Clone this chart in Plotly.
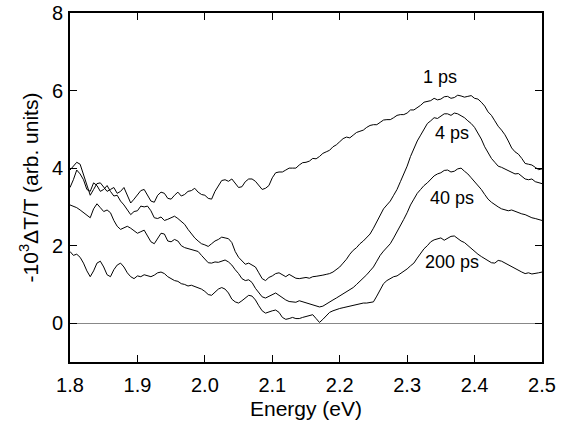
import plotly.graph_objects as go

# photon energy grid (eV), 5 meV steps
energy = [round(1.80 + 0.005 * i, 3) for i in range(141)]

# -10^3 dT/T for each pump-probe delay
ps1 = [3.95, 4.05, 4.15, 4.10, 3.85, 3.55, 3.30, 3.45, 3.60, 3.62,
       3.50, 3.40, 3.45, 3.50, 3.35, 3.40, 3.50, 3.30, 3.10, 3.20,
       3.30, 3.42, 3.45, 3.30, 3.15, 3.12, 3.30, 3.38, 3.35, 3.22,
       3.20, 3.30, 3.38, 3.28, 3.32, 3.40, 3.42, 3.48, 3.38, 3.32,
       3.30, 3.22, 3.20, 3.40, 3.55, 3.68, 3.70, 3.66, 3.72, 3.60,
       3.50, 3.52, 3.65, 3.72, 3.72, 3.66, 3.55, 3.45, 3.48, 3.55,
       3.75, 3.88, 3.90, 3.90, 3.95, 4.00, 4.00, 4.00, 4.08, 4.14,
       4.15, 4.18, 4.25, 4.24, 4.30, 4.38, 4.42, 4.46, 4.55, 4.60,
       4.68, 4.76, 4.80, 4.78, 4.85, 4.92, 4.95, 4.98, 5.05, 5.10,
       5.12, 5.12, 5.18, 5.24, 5.25, 5.25, 5.30, 5.36, 5.38, 5.38,
       5.42, 5.50, 5.50, 5.55, 5.62, 5.70, 5.72, 5.74, 5.80, 5.76,
       5.78, 5.84, 5.85, 5.80, 5.82, 5.88, 5.86, 5.83, 5.85, 5.87,
       5.80, 5.78, 5.70, 5.60, 5.45, 5.36, 5.22, 5.08, 4.98, 4.86,
       4.70, 4.52, 4.42, 4.36, 4.25, 4.12, 4.10, 4.08, 4.02, 3.96,
       3.98]
ps4 = [3.50, 3.70, 3.95, 3.85, 3.70, 3.45, 3.40, 3.62, 3.55, 3.40,
       3.45, 3.55, 3.40, 3.28, 3.30, 3.15, 3.05, 2.92, 2.80, 2.88,
       2.90, 3.02, 3.00, 3.02, 2.90, 2.72, 2.70, 2.74, 2.65, 2.68,
       2.72, 2.76, 2.70, 2.62, 2.55, 2.42, 2.30, 2.20, 2.12, 2.05,
       2.02, 1.98, 2.05, 2.12, 2.16, 2.22, 2.20, 2.18, 2.08, 1.85,
       1.70, 1.60, 1.52, 1.55, 1.50, 1.45, 1.30, 1.15, 1.10, 1.18,
       1.22, 1.28, 1.30, 1.25, 1.20, 1.26, 1.22, 1.16, 1.15, 1.17,
       1.18, 1.16, 1.20, 1.21, 1.22, 1.24, 1.26, 1.28, 1.32, 1.38,
       1.45, 1.55, 1.65, 1.78, 1.88, 1.95, 2.05, 2.12, 2.20, 2.30,
       2.45, 2.62, 2.80, 2.95, 3.05, 3.15, 3.30, 3.45, 3.65, 3.85,
       4.05, 4.30, 4.50, 4.70, 4.85, 5.00, 5.15, 5.22, 5.30, 5.28,
       5.35, 5.40, 5.40, 5.36, 5.42, 5.40, 5.35, 5.30, 5.22, 5.15,
       5.05, 4.90, 4.75, 4.55, 4.38, 4.25, 4.15, 4.05, 4.02, 3.98,
       3.95, 3.90, 3.85, 3.86, 3.78, 3.72, 3.70, 3.72, 3.65, 3.62,
       3.60]
ps40 = [3.05, 3.02, 2.98, 2.92, 2.85, 2.78, 2.72, 2.95, 3.08, 2.98,
        2.88, 2.92, 2.85, 2.65, 2.50, 2.42, 2.45, 2.50, 2.45, 2.38,
        2.32, 2.36, 2.40, 2.25, 2.10, 2.05, 2.20, 2.32, 2.30, 2.12,
        2.10, 2.16, 2.12, 2.00, 1.95, 1.92, 1.90, 1.88, 1.85, 1.75,
        1.65, 1.56, 1.55, 1.58, 1.57, 1.60, 1.63, 1.58, 1.50, 1.38,
        1.28, 1.15, 1.10, 1.12, 1.05, 0.90, 0.78, 0.68, 0.65, 0.70,
        0.75, 0.78, 0.72, 0.65, 0.60, 0.56, 0.55, 0.54, 0.58, 0.55,
        0.52, 0.50, 0.48, 0.45, 0.42, 0.44, 0.50, 0.56, 0.60, 0.65,
        0.70, 0.76, 0.80, 0.85, 0.92, 1.00, 1.08, 1.15, 1.25, 1.35,
        1.45, 1.60, 1.75, 1.86, 1.95, 2.05, 2.20, 2.35, 2.50, 2.68,
        2.85, 3.05, 3.20, 3.35, 3.45, 3.55, 3.62, 3.72, 3.80, 3.85,
        3.88, 3.94, 3.95, 3.90, 3.92, 3.98, 4.00, 3.92, 3.85, 3.75,
        3.65, 3.55, 3.45, 3.32, 3.20, 3.12, 3.05, 3.00, 2.95, 2.92,
        2.90, 2.92, 2.88, 2.84, 2.82, 2.80, 2.75, 2.72, 2.70, 2.68,
        2.65]
ps200 = [1.85, 1.75, 1.78, 1.70, 1.55, 1.35, 1.20, 1.35, 1.55, 1.60,
         1.45, 1.25, 1.20, 1.38, 1.50, 1.55, 1.45, 1.30, 1.20, 1.15,
         1.22, 1.20, 1.25, 1.22, 1.20, 1.24, 1.30, 1.32, 1.28, 1.20,
         1.15, 1.10, 1.08, 1.02, 1.00, 0.96, 0.98, 0.95, 0.92, 0.88,
         0.82, 0.74, 0.72, 0.80, 0.88, 0.92, 0.88, 0.78, 0.62, 0.55,
         0.52, 0.58, 0.65, 0.72, 0.70, 0.60, 0.45, 0.32, 0.26, 0.30,
         0.32, 0.34, 0.28, 0.15, 0.10, 0.12, 0.15, 0.12, 0.12, 0.15,
         0.18, 0.20, 0.22, 0.12, 0.02, 0.10, 0.18, 0.28, 0.32, 0.36,
         0.38, 0.40, 0.42, 0.44, 0.45, 0.48, 0.50, 0.52, 0.52, 0.54,
         0.55, 0.70, 0.85, 1.02, 1.10, 1.15, 1.20, 1.22, 1.28, 1.32,
         1.40, 1.48, 1.55, 1.68, 1.80, 1.92, 2.00, 2.10, 2.15, 2.18,
         2.20, 2.14, 2.18, 2.24, 2.25, 2.18, 2.12, 2.08, 2.00, 1.92,
         1.85, 1.78, 1.72, 1.66, 1.62, 1.56, 1.55, 1.62, 1.60, 1.55,
         1.50, 1.45, 1.42, 1.36, 1.32, 1.28, 1.30, 1.27, 1.28, 1.30,
         1.32]

labels = ["1 ps", "4 ps", "40 ps", "200 ps"]
label_x = [2.349, 2.367, 2.367, 2.367]
label_y = [6.35, 4.9, 3.23, 1.57]

fig = go.Figure()
for ys in [ps1, ps4, ps40, ps200]:
    fig.add_trace(go.Scatter(x=energy, y=ys, mode="lines",
                             line=dict(color="black", width=1), showlegend=False))

for t, lx, ly in zip(labels, label_x, label_y):
    fig.add_annotation(x=lx, y=ly, text=t, showarrow=False,
                       font=dict(size=18, color="black"))

axis_style = dict(showline=True, linecolor="black", linewidth=2, mirror="ticks",
                  ticks="inside", ticklen=7, tickwidth=1, tickcolor="black",
                  showgrid=False, automargin=False,
                  tickfont=dict(size=20, color="black"))

fig.update_xaxes(range=[1.8, 2.5], tickvals=[1.8, 1.9, 2.0, 2.1, 2.2, 2.3, 2.4, 2.5],
                 ticktext=["1.8", "1.9", "2.0", "2.1", "2.2", "2.3", "2.4", "2.5"],
                 title=dict(text="Energy (eV)", font=dict(size=21, color="black"), standoff=6),
                 ticklabelstandoff=4, **axis_style)
fig.update_yaxes(range=[-1, 8], tickvals=[0, 2, 4, 6, 8],
                 zeroline=True, zerolinecolor="#888888", zerolinewidth=1,
                 title=dict(text="-10<sup>3</sup>ΔT/T (arb. units)",
                            font=dict(size=21, color="black"), standoff=8),
                 ticklabelstandoff=1, **axis_style)

fig.update_layout(width=571, height=426, margin=dict(l=70, r=29, t=13, b=64),
                  plot_bgcolor="white", paper_bgcolor="white",
                  font=dict(family="Liberation Sans, Arial, sans-serif"))

# drop the page's default body margin so the figure sits at the window corner
fig.write_html("out.html", config={"displayModeBar": False},
               post_script="document.body.style.margin='0';")
